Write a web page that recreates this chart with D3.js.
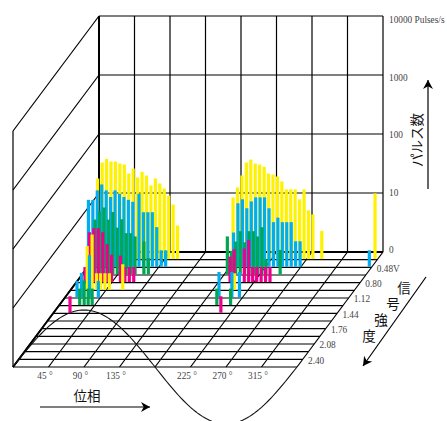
<!DOCTYPE html>
<html><head><meta charset="utf-8">
<style>html,body{margin:0;padding:0;background:#fff;overflow:hidden}svg{display:block}</style>
<script src="https://cdn.jsdelivr.net/npm/d3@7/dist/d3.min.js"></script></head>
<body><svg id="c" width="447" height="421"></svg>
<script>
const signalTicks=[0.48,0.80,1.12,1.44,1.76,2.08,2.40];
const pulseTicks=[1,10,100,1000,10000];
const pulseLabels=["0","10","100","1000","10000 Pulses/s"];
const phaseTicks=[45,90,135,225,270,315];
const rowSignal=[0.16,0.32,0.48,0.64,0.80,0.96,1.12,1.28];
const rowColor=["#fff200","#00aeef","#00a651","#ec008c","#fff200","#00aeef","#00a651","#ec008c"];
const bins1=[1,2,3,4,5,6,7,8,9,10,11,12,13,14,15,16,17,18,19,31.5,32.5,33.5,34.5,35.5,36.5,37.5,38.5,39.5,40.5,41.5,42.5,43.5,44.5,45.5,46.5,47.5,48.5,49.5,51.5,63.5];
const pulses1=[23.2,43.2,49.9,45,45,41.6,40,28.2,34.3,24.2,30.1,26.1,17.7,23.2,19.1,15.7,11.9,8.4,3.7,11.1,16.4,26.1,43.2,48.6,41.6,40,36.6,28.2,27.1,25.1,20.7,15.2,15.2,15.2,10.3,15.2,6.7,5.7,3,13];
const bins2=[0.2,1.2,2.2,3.2,4.2,5.2,6.2,7.2,8.2,9.2,10.2,11.6,12.6,13.6,14.6,15.6,16.6,17.6,32.9,33.9,34.9,35.9,36.9,37.9,38.9,39.9,40.9,41.9,42.9,43.9,44.9,45.9,46.9,47.9,63.5];
const pulses2=[13.6,13.6,19.7,24.8,19.7,15.2,19.7,17.2,15.2,13.6,12.6,17.2,8.4,8.4,8.4,4.7,1.9,1.9,3.8,11.9,13.9,9.8,12.8,15,15,15,9.8,5.7,6.8,5.7,5.7,5.7,2.7,2.7,1.9];
const bins3=[3,4,5,6,7,8,9,10,11,12,14,15,32.8,33.7,34.7,35.7,36.7,37.7,38.7,39.6,40.6,41.5,44.7];
const pulses3=[8.5,11.7,13.6,8.5,11.4,6.2,8.6,5,5,4.4,3.6,1.9,4.4,2.5,3.6,5.4,3.5,5.4,5.4,4.4,6.3,1.8,2.6];
const bins4=[2,3,4,5,6,7,8,10,11,12,13,34.7,35.6,37.9,38.9,39.8,40.7,41.7,42.7,43.7];
const pulses4=[1.8,7,8.2,8.2,7,4.4,2.9,2.8,1.8,1.8,1.8,2.7,3.6,3.7,5.2,1.8,1.8,1.8,1.8,1.8];
const bins5=[3.8,4.9,5.9,6.8,7.8,8.8,11.8,37];
const pulses5=[5.5,8.6,1.9,1.9,1.9,1.9,2.7,1.9];
const bins6=[2.8,3.8,5.6,7.6,34.8,37.7,39.4];
const pulses6=[1.9,2.6,5.2,1.9,2.7,2.7,2.7];
const bins7=[4.7,5.7,6.6,7.5,35.6,38.7];
const pulses7=[1.9,2.6,1.9,1.9,1.9,1.9];
const bins8=[3.8,37.8];
const pulses8=[1.9,1.9];
const rowBins=[bins1,bins2,bins3,bins4,bins5,bins6,bins7,bins8];
const rowPulses=[pulses1,pulses2,pulses3,pulses4,pulses5,pulses6,pulses7,pulses8];

const svg=d3.select("#c");
const backX=99,backY=252,frontX=13,frontY=367,wallW=284;
const phase=d3.scaleLinear().domain([0,360]).range([0,wallW]);
const binPhase=d3.scaleLinear().domain([0,64]).range([0,360]);
const depthY=d3.scaleLinear().domain([0,2.4]).range([backY,frontY]);
const depthX=d3.scaleLinear().domain([0,2.4]).range([backX,frontX]);
const rise=d3.scaleLog().domain([1,10000]).range([0,236]);
const line=(g,x1,y1,x2,y2,w)=>g.append("line").attr("x1",x1).attr("y1",y1).attr("x2",x2).attr("y2",y2).attr("stroke","#000").attr("stroke-width",w||1);

const grid=svg.append("g");
pulseTicks.forEach((p,i)=>{
  const y=backY-rise(p);
  line(grid,backX,y,backX+wallW,y,i==0?2:1.2);
  line(grid,frontX,frontY-rise(p),backX,y,i==0?1.7:1.2);
});
d3.range(0,361,45).forEach((d,i)=>{
  line(grid,backX+phase(d),backY-rise(10000),backX+phase(d),backY,i==0?2:1.2);
  line(grid,backX+phase(d),backY,frontX+phase(d),frontY,i==0?1.7:1.2);
});
line(grid,frontX,frontY-rise(10000),frontX,frontY,1.2);
d3.range(0,2.401,0.16).forEach(s=>{
  line(grid,depthX(s),depthY(s),depthX(s)+wallW,depthY(s),1.2);
});
const sineX=d3.scaleLinear().domain([0,360]).range([frontX,frontX+phase(360)]);
const sineY=d3.scaleLinear().domain([-1,1]).range([frontY+57,frontY-57]);
svg.append("path").attr("fill","none").attr("stroke","#111").attr("stroke-width",1.1)
  .attr("d",d3.line().x(d=>sineX(d)).y(d=>sineY(Math.sin(d*Math.PI/180)))(d3.range(0,361,3)));
rowSignal.forEach((s,r)=>{
  svg.append("g").selectAll("rect").data(rowBins[r].map((b,i)=>({b,p:rowPulses[r][i]}))).join("rect")
    .attr("x",d=>depthX(s)+phase(binPhase(d.b))-1.6)
    .attr("width",3.2)
    .attr("y",d=>depthY(s)-rise(d.p)-0.6)
    .attr("height",d=>rise(d.p))
    .attr("fill",rowColor[r]);
});
const serif='"Liberation Serif",serif', cjk='"Noto Sans CJK JP",sans-serif';
const labelY=d3.scaleLog().domain([1,10000]).range([250,20]);
const wallAxis=d3.axisRight(labelY).tickValues(pulseTicks).tickSize(0).tickPadding(0).tickFormat((d,i)=>pulseLabels[i]);
const ax=svg.append("g").attr("transform","translate(389,0)").call(wallAxis);
ax.select(".domain").remove();
ax.selectAll("text").attr("font-family",serif).attr("font-size",9.3).attr("fill","#444").attr("dy","0.32em");
const txt=(x,y,t,o={})=>svg.append("text").attr("x",x).attr("y",y).text(t).attr("font-family",o.f||serif).attr("font-size",o.s||9.3).attr("fill",o.c||"#444").attr("text-anchor",o.a||"middle").attr("dominant-baseline","middle");
phaseTicks.forEach(d=>txt(frontX+phase(d)-3.5,377,d+" °"));
signalTicks.forEach((s,i)=>txt(depthX(s)+wallW+11,depthY(s)-5.5,s.toFixed(2)+(i==0?"V":""),{a:"start"}));
txt(87,397,"位相",{f:cjk,s:13.5,c:"#111"});
[["信",404,289],["号",393,305],["強",381,321],["度",369,337]].forEach(d=>txt(d[1],d[2],d[0],{f:cjk,s:13.5,c:"#111"}));
svg.append("text").attr("transform","translate(418,140) rotate(-90)").attr("text-anchor","middle").attr("dominant-baseline","middle").attr("font-family",cjk).attr("font-size",13.5).attr("fill","#111").text("パルス数");
const arrow=(x1,y1,x2,y2)=>{
  line(svg,x1,y1,x2,y2,1.2);
  const a=Math.atan2(y2-y1,x2-x1),L=9,W=5;
  const bx=x2-L*Math.cos(a),by=y2-L*Math.sin(a);
  svg.append("path").attr("fill","#000").attr("d",`M${x2},${y2}L${bx-W*Math.sin(a)},${by+W*Math.cos(a)}L${bx+0.3*L*Math.cos(a)},${by+0.3*L*Math.sin(a)}L${bx+W*Math.sin(a)},${by-W*Math.cos(a)}Z`);
};
arrow(40,407,150,407);
arrow(428,189,428,80);
arrow(426,277,363,366);
</script></body></html>
